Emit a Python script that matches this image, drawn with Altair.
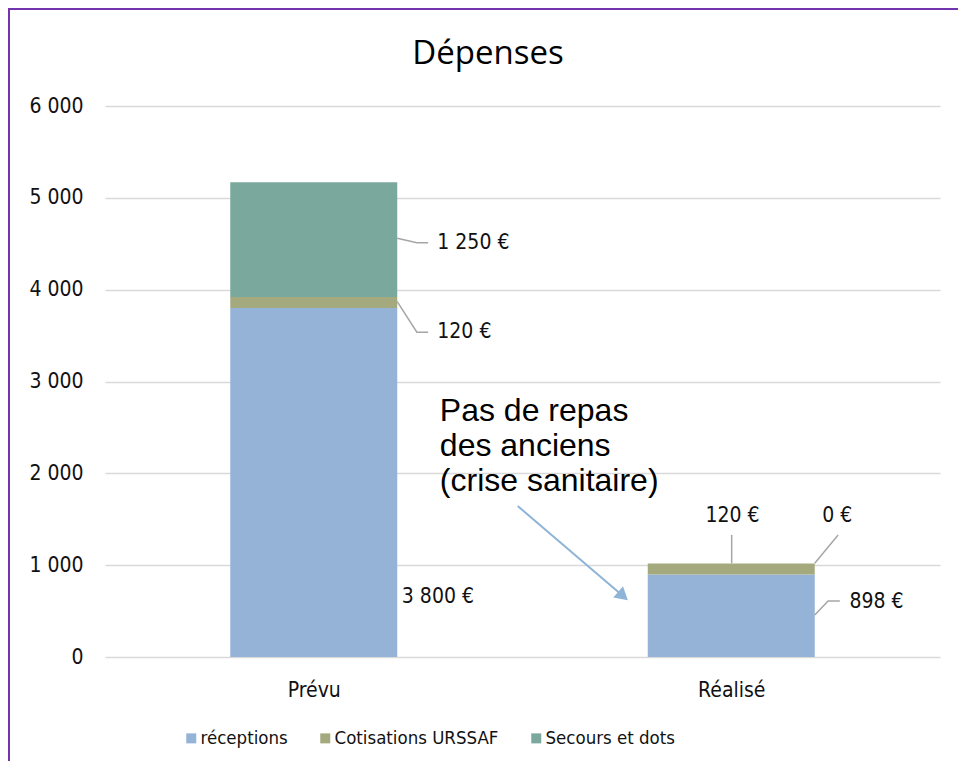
import altair as alt
import pandas as pd

# ---------------- data ----------------
CATEGORIES = ["Prévu", "Réalisé"]
SERIES = ["réceptions", "Cotisations URSSAF", "Secours et dots"]
RECEPTIONS = [3800, 898]
COTISATIONS = [120, 120]
SECOURS = [1250, 0]
COLORS = ["#95B3D7", "#A4A97E", "#7BA89C"]

Y_TICKS = [0, 1000, 2000, 3000, 4000, 5000, 6000]

TITLE = "Dépenses"
NOTE = "Pas de repas\ndes anciens\n(crise sanitaire)"

# data labels (value shown, anchor in data units)
LABEL_VALUE = [1250, 120, 3800, 120, 0, 898]
LABEL_X = [0.296, 0.296, 0.211, 1.003, 1.254, 1.283]
LABEL_Y = [4510, 3539, 656, 1539, 1539, 602]
LABEL_ALIGN = ["left", "left", "left", "center", "center", "left"]

# leader lines (polyline id, x in category units, y in data units)
LEADER_ID = [0, 0, 0, 1, 1, 1, 2, 2, 3, 3, 4, 4, 4]
LEADER_X = [0.2, 0.247, 0.274, 0.2, 0.247, 0.274, 1.001, 1.001, 1.2, 1.256, 1.2, 1.232, 1.26]
LEADER_Y = [4560, 4512, 4512, 3869, 3536, 3536, 1020, 1329, 1020, 1329, 457, 610, 610]

# annotation arrow
ARROW_X = [0.4885, 0.7407]
ARROW_Y = [1644, 663]
NOTE_X = [0.302]
NOTE_Y = [2570]

# ---------------- layout ----------------
W, H = 835, 551
BAR_HALF = 0.2
FONT = "DejaVu Sans Condensed, Roboto, sans-serif"

rows = []
for ci, cat in enumerate(CATEGORIES):
    base = 0
    for s, vals in zip(SERIES, [RECEPTIONS, COTISATIONS, SECOURS]):
        v = vals[ci]
        rows.append(dict(cat=cat, idx=ci, series=s, value=v, y0=base, y1=base + v))
        base += v
bars_df = pd.DataFrame(rows)

labels_df = pd.DataFrame({
    "x": LABEL_X,
    "y": LABEL_Y,
    "align": LABEL_ALIGN,
    "text": [f"{v:,}".replace(",", " ") + " €" for v in LABEL_VALUE],
})
leaders_df = pd.DataFrame({"id": LEADER_ID, "x": LEADER_X, "y": LEADER_Y,
                           "o": list(range(len(LEADER_ID)))})
arrow_df = pd.DataFrame({"x": ARROW_X, "y": ARROW_Y})
head_df = pd.DataFrame({"x": ARROW_X[-1:], "y": ARROW_Y[-1:]})
note_df = pd.DataFrame({"x": NOTE_X, "y": NOTE_Y, "t": [NOTE]})
title_df = pd.DataFrame({"t": [TITLE]})

x_scale = alt.Scale(domain=[-0.5, 1.5], nice=False, zero=False)
y_scale = alt.Scale(domain=[0, 6000], nice=False, zero=True)

cat_expr = "[" + ",".join(f"'{c}'" for c in CATEGORIES) + "][datum.value]"

frame = alt.Chart(title_df).mark_rect(
    fillOpacity=0, stroke="#7434AD", strokeWidth=2
).encode(
    x=alt.value(-96), x2=alt.value(W + 100),
    y=alt.value(-97), y2=alt.value(H + 200),
)

bars = alt.Chart(bars_df).transform_calculate(
    xa=f"datum.idx - {BAR_HALF}", xb=f"datum.idx + {BAR_HALF}"
).mark_rect().encode(
    x=alt.X("xa:Q", scale=x_scale,
            axis=alt.Axis(values=[0, 1], labelExpr=cat_expr, title=None,
                          grid=False, domain=False, ticks=False,
                          labelFont=FONT, labelFontSize=21, labelColor="#111",
                          labelPadding=22)),
    x2="xb:Q",
    y=alt.Y("y0:Q", scale=y_scale,
            axis=alt.Axis(values=Y_TICKS,
                          labelExpr="replace(format(datum.value, ','), ',', ' ')",
                          title=None, domain=False, ticks=False,
                          gridColor="#D9D9D9", gridWidth=1.5,
                          labelFont=FONT, labelFontSize=21, labelColor="#111",
                          labelPadding=22)),
    y2="y1:Q",
    color=alt.Color("series:N", scale=alt.Scale(domain=SERIES, range=COLORS),
                    legend=alt.Legend(orient="none", legendX=77, legendY=623,
                                      direction="horizontal", title=None,
                                      symbolType="square", symbolSize=100,
                                      symbolStrokeWidth=0, labelLimit=0,
                                      labelFont=FONT, labelFontSize=18.5,
                                      labelColor="#111", columnPadding=28,
                                      labelOffset=0, padding=0)),
)

leaders = alt.Chart(leaders_df).mark_line(color="#A6A6A6", strokeWidth=1.5).encode(
    x=alt.X("x:Q", scale=x_scale),
    y=alt.Y("y:Q", scale=y_scale),
    detail="id:N",
    order="o:Q",
)

labels_left = alt.Chart(labels_df).transform_filter("datum.align == 'left'").mark_text(
    align="left", baseline="middle", font=FONT, fontSize=21, color="#111"
).encode(x=alt.X("x:Q", scale=x_scale), y=alt.Y("y:Q", scale=y_scale), text="text:N")

labels_center = alt.Chart(labels_df).transform_filter("datum.align == 'center'").mark_text(
    align="center", baseline="middle", font=FONT, fontSize=21, color="#111"
).encode(x=alt.X("x:Q", scale=x_scale), y=alt.Y("y:Q", scale=y_scale), text="text:N")

arrow = alt.Chart(arrow_df).mark_line(color="#8EB4D8", strokeWidth=2).encode(
    x=alt.X("x:Q", scale=x_scale), y=alt.Y("y:Q", scale=y_scale)
)
head = alt.Chart(head_df).mark_point(
    shape="triangle-right", angle=41, size=220, filled=True,
    color="#8EB4D8", opacity=1
).encode(x=alt.X("x:Q", scale=x_scale), y=alt.Y("y:Q", scale=y_scale))

note = alt.Chart(note_df).mark_text(
    align="left", baseline="alphabetic", font="Liberation Sans", fontSize=32,
    lineHeight=35, lineBreak="\n", color="#000"
).encode(x=alt.X("x:Q", scale=x_scale), y=alt.Y("y:Q", scale=y_scale), text="t:N")

title = alt.Chart(title_df).mark_text(
    align="center", baseline="alphabetic", font="Open Sans", fontSize=33, color="#000"
).encode(x=alt.value(383), y=alt.value(-42), text="t:N")

chart = alt.layer(frame, bars, leaders, labels_left, labels_center, arrow, head, note, title).properties(
    width=W, height=H,
    padding={"left": 97, "top": 98, "right": 18, "bottom": 104},
    autosize=alt.AutoSizeParams(type="none"),
    background="white",
).configure_view(stroke=None)

chart.save("out.html", embed_options={"renderer": "svg", "actions": False})
